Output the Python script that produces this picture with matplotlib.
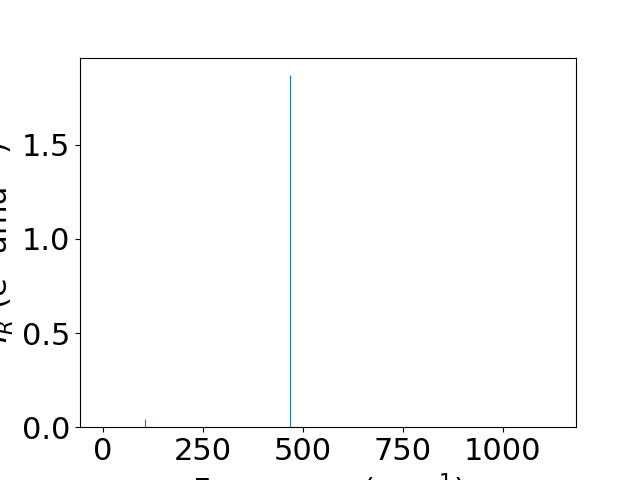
import matplotlib
matplotlib.use("Agg")
import matplotlib.pyplot as plt

frequencies = [0, 105, 469, 1127]
intensities = [0.0, 0.043, 1.87, 0.0]

plt.rcParams['font.size'] = 22
fig, ax = plt.subplots(figsize=(6.4, 4.8), dpi=100)
ax.vlines(frequencies, 0, intensities, colors='tab:blue', linewidth=0.8)
ax.set_ylim(bottom=0)
ax.set_xlabel('Frequency (cm$^{-1}$)')
ax.set_ylabel('$I_R$ (e$^2$ amu$^{-1}$)')
fig.savefig('out.png', dpi=100)
